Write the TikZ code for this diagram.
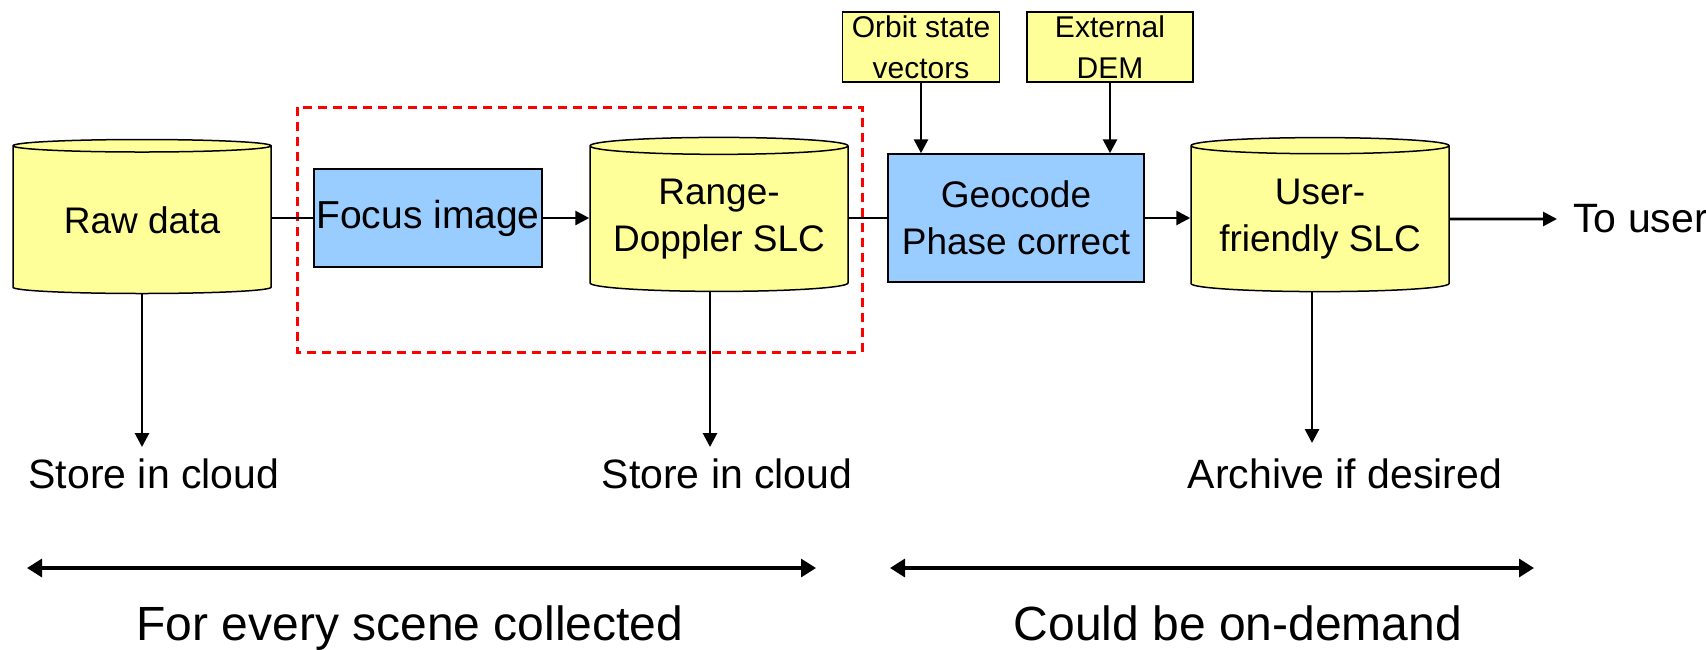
\documentclass[tikz,border=0pt]{standalone}
\usepackage{fontspec}
\setmainfont{Liberation Sans}
\usetikzlibrary{shapes.geometric,arrows.meta}
\definecolor{dbyellow}{HTML}{FFFF99}
\definecolor{procblue}{HTML}{99CCFF}
\begin{document}
\begin{tikzpicture}[x=0.5pt,y=-0.5pt,
    db/.style={cylinder,shape border rotate=90,aspect=0.08,draw,line width=0.75pt,fill=dbyellow,
      minimum width=129pt,minimum height=77pt,inner sep=0pt,align=center,
      font=\fontsize{18.5}{23.5}\selectfont},
    proc/.style={rectangle,draw,line width=0.75pt,fill=procblue,inner sep=0pt,align=center,
      font=\fontsize{18.5}{23.5}\selectfont},
    src/.style={rectangle,draw,line width=0.75pt,fill=dbyellow,inner sep=0pt,align=center,
      minimum height=35pt,font=\fontsize{15}{20.5}\selectfont},
    lbl/.style={anchor=base,inner sep=0pt,font=\fontsize{20.5}{24}\selectfont},
    spanlbl/.style={anchor=base,inner sep=0pt,font=\fontsize{24}{28}\selectfont},
    link/.style={line width=1.4pt},
    flow/.style={line width=1.4pt,-{Triangle[length=7pt,width=7pt]}},
    spanarrow/.style={line width=1.6pt,{Triangle[length=7.5pt,width=9pt]}-{Triangle[length=7.5pt,width=9pt]}}]
  \useasboundingbox (0,0) rectangle (1706,649);
  \draw[red,line width=1.5pt,dash pattern=on 4.5pt off 3pt] (297,107) rectangle (862,352);
  \node[db] (raw) at (142,220) {Raw data};
  \node[proc,minimum width=114pt,minimum height=49pt,font=\fontsize{19.5}{23.5}\selectfont] (focus) at (428,218) {Focus image};
  \node[db] (rd) at (719,219) {Range-\\Doppler SLC};
  \node[proc,minimum width=128pt,minimum height=64pt] (geo) at (1016,218) {Geocode\\Phase correct};
  \node[db] (user) at (1320,219) {User-\\friendly SLC};
  \node[src,minimum width=78.5pt] (orbit) at (921,47) {Orbit state\\vectors};
  \node[src,minimum width=83pt] (dem) at (1110,47) {External\\DEM};
  \node[anchor=west,inner sep=0pt,inner xsep=8pt,font=\fontsize{20.5}{24}\selectfont] (touser) at (1557,219) {To user};
  \node[lbl] (rawstore) at (154,488) {Store in cloud};
  \node[lbl] (rdstore) at (727,488) {Store in cloud};
  \node[lbl] (archive) at (1345,488) {Archive if desired};
  \node[spanlbl] (every) at (410,640) {For every scene collected};
  \node[spanlbl] (demand) at (1238,640) {Could be on-demand};
  \coordinate (rawend) at (142,447);
  \coordinate (rdend) at (710,447);
  \coordinate (userend) at (1312,443);
  \coordinate (spanAl) at (27,568);
  \coordinate (spanAr) at (816,568);
  \coordinate (spanBl) at (890,568);
  \coordinate (spanBr) at (1534,568);
  \begin{scope}[link]
    \draw (raw.east |- focus) -- (focus);
    \draw (rd.east |- geo) -- (geo);
  \end{scope}
  \begin{scope}[flow]
    \draw (focus) -- (focus -| rd.west);
    \draw (geo) -- (geo -| user.west);
    \draw (user) -- (touser);
    \draw (orbit.south) -- (orbit.south |- geo.north);
    \draw (dem.south) -- (dem.south |- geo.north);
    \draw (rawend |- raw.south) -- (rawend);
    \draw (rdend |- rd.south) -- (rdend);
    \draw (userend |- user.south) -- (userend);
  \end{scope}
  \draw[spanarrow] (spanAl) -- (spanAr);
  \draw[spanarrow] (spanBl) -- (spanBr);
\end{tikzpicture}
\end{document}
